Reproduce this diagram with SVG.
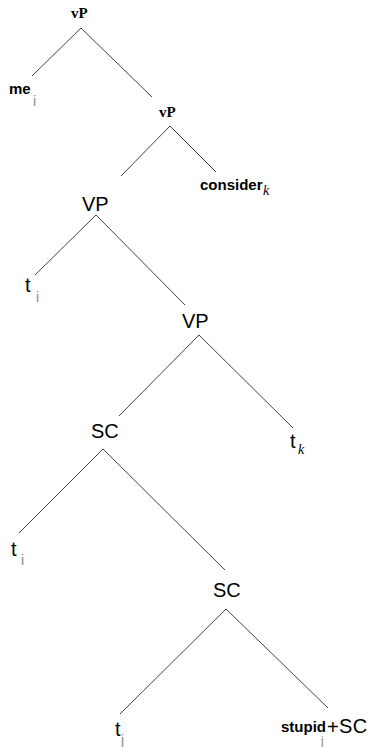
<svg xmlns="http://www.w3.org/2000/svg" width="373" height="747" viewBox="0 0 373 747">
<style>
.serifb{font-family:"Liberation Serif","Times New Roman",serif;font-weight:bold;font-size:15px;fill:#000}
.sansb{font-family:"Liberation Sans",Arial,sans-serif;font-weight:bold;font-size:15px;fill:#000}
.sans{font-family:"Liberation Sans",Arial,sans-serif;font-size:20px;fill:#000}
.subi{font-family:"Liberation Sans",Arial,sans-serif;font-size:14px;fill:#888}
.subk{font-family:"Liberation Serif","Times New Roman",serif;font-style:italic;font-size:14px;fill:#000}
.edge{stroke:#444;stroke-width:1;fill:none}
</style>
<rect width="373" height="747" fill="#fff"/>
<g id="connectors">
<line class="edge" x1="81" y1="28" x2="32" y2="76"/>
<line class="edge" x1="81" y1="28" x2="152" y2="97"/>
<line class="edge" x1="170" y1="126" x2="121" y2="176"/>
<line class="edge" x1="170" y1="126" x2="216" y2="172"/>
<line class="edge" x1="96" y1="215" x2="35" y2="275"/>
<line class="edge" x1="96" y1="215" x2="185" y2="305"/>
<line class="edge" x1="199" y1="335" x2="119" y2="416"/>
<line class="edge" x1="199" y1="335" x2="293" y2="428"/>
<line class="edge" x1="103" y1="449" x2="19" y2="533"/>
<line class="edge" x1="103" y1="449" x2="225" y2="570"/>
<line class="edge" x1="226" y1="609" x2="120" y2="714"/>
<line class="edge" x1="226" y1="609" x2="328" y2="708"/>
</g>
<g id="vP1"><text class="serifb" x="71" y="18">vP</text></g>
<g id="me"><text class="sansb" x="9" y="94">me</text><text class="subi" x="33" y="106">i</text></g>
<g id="vP2"><text class="serifb" x="159" y="117">vP</text></g>
<g id="consider"><text class="sansb" x="200" y="190">consider</text><text class="subk" x="263" y="195">k</text></g>
<g id="VP1"><text class="sans" x="82" y="211">VP</text></g>
<g id="ti1"><text class="sans" x="25" y="292">t</text><text class="subi" x="36" y="302">i</text></g>
<g id="VP2"><text class="sans" x="182" y="328">VP</text></g>
<g id="tk"><text class="sans" x="290" y="448">t</text><text class="subk" x="298" y="454">k</text></g>
<g id="SC1"><text class="sans" x="91" y="438">SC</text></g>
<g id="ti2"><text class="sans" x="11" y="556">t</text><text class="subi" x="21" y="565">i</text></g>
<g id="SC2"><text class="sans" x="213" y="597">SC</text></g>
<g id="tj"><text class="sans" x="115" y="736">t</text><text class="subi" x="121" y="745">j</text></g>
<g id="stupid"><text class="sansb" x="281" y="732" font-size="12.5">stupid<tspan x="321" y="745" font-weight="normal" font-size="12" fill="#888">j</tspan></text><text class="sans" x="327" y="734" font-size="16">+</text><text class="sans" x="339" y="733" font-size="20" letter-spacing="0.5">SC</text></g>
</svg>
